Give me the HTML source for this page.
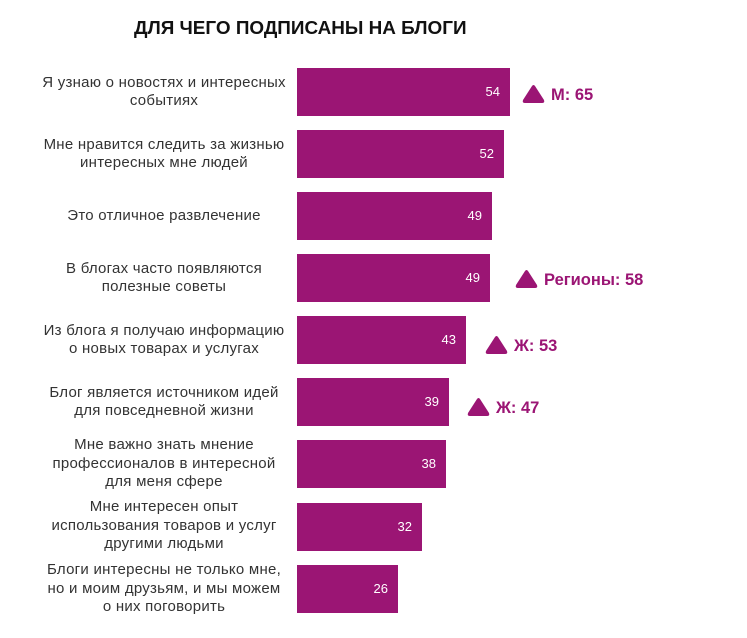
<!DOCTYPE html>
<html><head><meta charset="utf-8"><style>
body{margin:0;width:747px;height:638px;background:#fff;position:relative;font-family:"Liberation Sans",sans-serif;overflow:hidden}
.t{position:absolute;left:134px;top:18px;font-size:18.9px;font-weight:bold;color:#111}
.b{position:absolute;left:297px;height:48px;background:#9B1574}
.v{position:absolute;right:10px;top:0;line-height:48px;color:#fff;font-size:13px}
.l{position:absolute;left:29px;width:270px;text-align:center;font-size:15px;letter-spacing:0.25px;line-height:18.5px;color:#333;display:flex;align-items:center;justify-content:center;height:48px;white-space:nowrap}
.a{position:absolute;font-size:16.5px;font-weight:bold;color:#9B1574;height:20px;line-height:20px}
.a svg{position:absolute;left:-30px;top:-2px}
</style></head><body>
<div class="t">ДЛЯ ЧЕГО ПОДПИСАНЫ НА БЛОГИ</div>

<div class="l" style="top:68px">Я узнаю о новостях и интересных<br>событиях</div>
<div class="b" style="top:68px;width:213px"><span class="v">54</span></div>
<div class="l" style="top:130px">Мне нравится следить за жизнью<br>интересных мне людей</div>
<div class="b" style="top:130px;width:207px"><span class="v">52</span></div>
<div class="l" style="top:192px">Это отличное развлечение</div>
<div class="b" style="top:192px;width:195px"><span class="v">49</span></div>
<div class="l" style="top:254px">В блогах часто появляются<br>полезные советы</div>
<div class="b" style="top:254px;width:193px"><span class="v">49</span></div>
<div class="l" style="top:316px">Из блога я получаю информацию<br>о новых товарах и услугах</div>
<div class="b" style="top:316px;width:169px"><span class="v">43</span></div>
<div class="l" style="top:378px">Блог является источником идей<br>для повседневной жизни</div>
<div class="b" style="top:378px;width:152px"><span class="v">39</span></div>
<div class="l" style="top:440px">Мне важно знать мнение<br>профессионалов в интересной<br>для меня сфере</div>
<div class="b" style="top:440px;width:149px"><span class="v">38</span></div>
<div class="l" style="top:502px">Мне интересен опыт<br>использования товаров и услуг<br>другими людьми</div>
<div class="b" style="top:503px;width:125px"><span class="v">32</span></div>
<div class="l" style="top:565px">Блоги интересны не только мне,<br>но и моим друзьям, и мы можем<br>о них поговорить</div>
<div class="b" style="top:565px;width:101px"><span class="v">26</span></div>

<div class="a" style="left:551px;top:85px"><svg width="25" height="22"><path d="M11 3 Q12.5 1 14 3 L23 17 Q24 20 21 20 L4 20 Q1 20 2 17 Z" fill="#9B1574"/></svg>М: 65</div>
<div class="a" style="left:544px;top:270px"><svg width="25" height="22"><path d="M11 3 Q12.5 1 14 3 L23 17 Q24 20 21 20 L4 20 Q1 20 2 17 Z" fill="#9B1574"/></svg>Регионы: 58</div>
<div class="a" style="left:514px;top:336px"><svg width="25" height="22"><path d="M11 3 Q12.5 1 14 3 L23 17 Q24 20 21 20 L4 20 Q1 20 2 17 Z" fill="#9B1574"/></svg>Ж: 53</div>
<div class="a" style="left:496px;top:398px"><svg width="25" height="22"><path d="M11 3 Q12.5 1 14 3 L23 17 Q24 20 21 20 L4 20 Q1 20 2 17 Z" fill="#9B1574"/></svg>Ж: 47</div>
</body></html>
